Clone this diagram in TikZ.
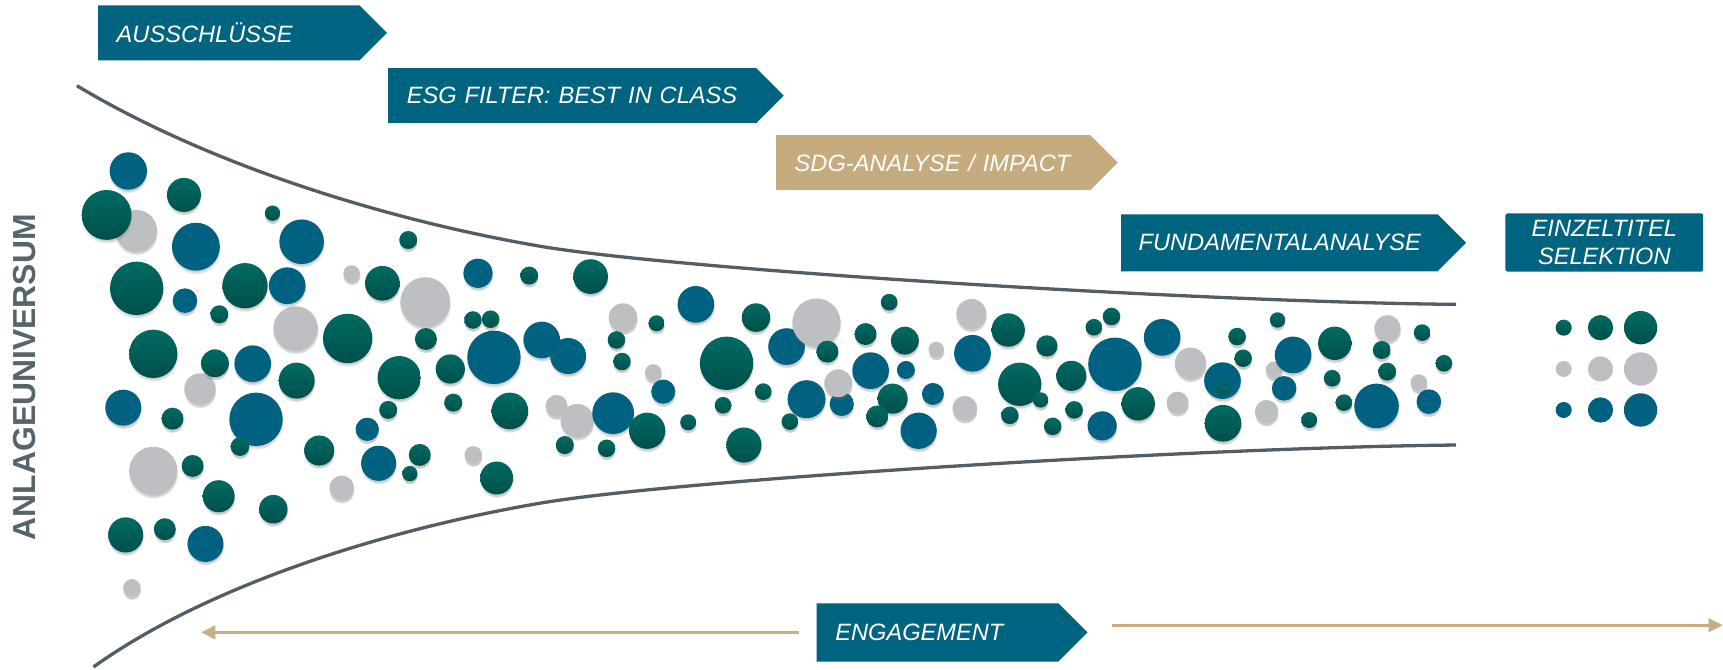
\documentclass[tikz,border=0pt]{standalone}
\usepackage{fontspec}
\setmainfont{Liberation Sans}
\usetikzlibrary{shapes.symbols, shadows, arrows.meta}

\definecolor{tagblue}{RGB}{0,99,128}
\definecolor{taggold}{RGB}{197,171,125}
\definecolor{arrowgold}{RGB}{200,174,128}
\definecolor{bubbleblue}{RGB}{0,98,128}
\definecolor{bubblegray}{RGB}{189,191,195}
\definecolor{greentop}{RGB}{0,107,98}
\definecolor{greenbottom}{RGB}{0,79,75}
\definecolor{funnelgray}{RGB}{81,94,103}
\definecolor{labelgray}{RGB}{86,100,108}

\newcommand\tagfont{\fontsize{21.5}{25.5}\selectfont\itshape}

\tikzset{
  bubbleshadow/.style={circular drop shadow={shadow xshift=0pt, shadow yshift=-2.5pt,
      shadow scale=1.04, opacity=0.35, fill=black!60}},
  greenbubble/.style={top color=greentop, bottom color=greenbottom, bubbleshadow},
  bluebubble/.style={fill=bubbleblue, bubbleshadow},
  graybubble/.style={fill=bubblegray, bubbleshadow},
  tag/.style={signal, signal to=east, fill=tagblue, text=white, font=\tagfont,
      minimum height=50pt, inner xsep=17pt, inner ysep=0pt, align=left, anchor=west},
  selectbox/.style={rectangle, rounded corners=2pt, fill=tagblue, text=white, font=\tagfont,
      align=center, minimum width=180pt, minimum height=53pt, inner sep=0pt},
  funnel/.style={draw=funnelgray, line width=3pt},
  engline/.style={draw=arrowgold, line width=3pt, -{Triangle[length=13pt, width=12pt]}}
}

\begin{document}
\begin{tikzpicture}[x=1pt, y=-1pt]
  \useasboundingbox (0,0) rectangle (1568,609);

  % funnel
  \draw[funnel] (70,78) .. controls (190,150) and (351,200) .. (491,224)
      .. controls (620,246) and (1100,275) .. (1325,277);
  \draw[funnel] (85,607) .. controls (190,532) and (351,482) .. (491,458)
      .. controls (620,436) and (1100,407) .. (1325,405);

  % bubbles: gray ones in the back
  \foreach \x/\y/\r in {124/210/19, 320/249/7.6, 269/299/20.3, 182/354/14.3, 139.5/428.6/22,
      311/444/11.2, 120/535/8, 387/275/22.7, 506.5/369.4/10, 525.3/382.8/15.2, 430.7/414/8,
      567/289/13, 594.5/339/7.6, 852/318/7, 884/285.7/13.7, 878/371.5/11.2, 1083.4/330.6/14.3,
      1071.6/366.4/10, 1159.5/336.7/7.6, 1152.6/374.6/10.6, 1262.6/298.8/12, 1291.2/348.2/7.6}
    \path[graybubble] (\x,\y) circle[radius=\r pt];

  \foreach \x/\y/\r in {116.8/155.6/17, 178.3/224.5/21.8, 274.5/220/20.3, 168.3/273.6/11.2,
      261.4/260/16.7, 230/331/16.7, 112.2/371/16.4, 233/381.6/24.3, 334.2/390.7/10.6,
      344.6/421.6/16, 187/495/16.4, 435/248.7/13.3, 449.5/325.2/24.3, 517/324/16.4,
      493/309.4/16.7, 558/376/19, 603.6/356.4/11, 633.3/277/16.7, 715.8/315.4/16.7,
      734/363.3/17.3, 766/367.6/11, 792.3/337.3/16.7, 824.4/336.7/8.2, 849/358.5/10,
      836/392/16.5, 885/321.5/16.7, 1014.6/331.5/24.3, 1057.6/307/16.7, 1112.5/346.4/16.7,
      1176.8/323/16.7, 1168.6/353.4/11.2, 1003/387.6/13.3, 1252.7/369.4/20.3, 1300.3/365.5/11.2}
    \path[bluebubble] (\x,\y) circle[radius=\r pt];

  \foreach \x/\y/\r in {743/293.6/22, 762.8/348.8/12.7}
    \path[graybubble] (\x,\y) circle[radius=\r pt];

  \foreach \x/\y/\r in {97/195.6/22.7, 167.4/177.4/15.5, 248/194/7, 124.4/262.4/24.3,
      199.6/286/8.2, 223/260/20.6, 316.4/308/22.5, 139.5/322/22, 195.6/330.6/12.7, 157/381/10,
      270/346.4/16.4, 218.4/406.4/8.5, 363.3/343.7/19.7, 353.3/373/8.2, 290.5/410/13.7,
      175.3/424/10, 199/451.6/14.6, 248.7/463.4/13, 114.4/486.8/16, 150/481.6/10,
      348/257.8/15.8, 371.5/218.4/8.2, 481.6/250.8/8.2, 537.5/251.7/15.8, 387.6/308.5/10,
      430.4/291.2/8, 446.5/290.5/8, 409.8/335.8/13.3, 412.5/366.4/8.2, 464/374/16.7,
      514/405/8.2, 552/408/8, 382/414/10, 452/435/15, 373/431/7, 561/309.4/8, 566/329/8,
      597.5/294.2/7.3, 661.2/330.6/24.3, 589/392/16.5, 626.3/384.3/7.3, 658/368.8/7.6,
      688/289/13, 694.6/356.4/7.6, 753/320/10, 718.8/383.7/7.6, 809.2/275/7.6, 787.7/304/10,
      823.5/310/12.7, 812.3/362.8/13.7, 798.3/379/10, 677/405/16, 917.5/300.3/15.2,
      952.7/314.8/9.7, 928/349.7/19.7, 947/364/7, 975/342/13.7, 995.5/297.8/7.6, 1011.5/288/8,
      1035.8/367.5/15.2, 977.5/373/8, 1125.8/306.3/8, 1131.3/326/8, 1162.6/291.2/7,
      1214.7/312.4/15.2, 1212.3/344.2/7.6, 1113/385.2/16.7, 919/378/8, 958/388/8,
      1191.4/382.2/7.3, 1223/366.4/7.6, 1257.5/318.5/8.2, 1262.4/338.2/8.2, 1294.2/302.7/7.6,
      1314/330.6/7.6}
    \path[greenbubble] (\x,\y) circle[radius=\r pt];
  \path[top color=greentop, bottom color=greenbottom, opacity=0.5] (1112.5,352.4) circle[radius=8.2pt];

  % selection
  \foreach \x/\r in {1423/7.3, 1456.5/11.5, 1493/15.2} {
    \path[top color=greentop, bottom color=greenbottom] (\x,298.2) circle[radius=\r pt];
    \path[fill=bubblegray] (\x,335.8) circle[radius=\r pt];
    \path[fill=bubbleblue] (\x,373.1) circle[radius=\r pt];
  }

  % steps
  \node[tag, text width=204pt] (ausschluesse) at (89,30) {AUSSCHLÜSSE};
  \node[tag, text width=301pt] (esgfilter) at (353,87) {ESG FILTER: BEST IN CLASS};
  \node[tag, fill=taggold, text width=252pt] (sdg) at (706,148) {SDG-ANALYSE / IMPACT};
  \node[tag, inner xsep=16pt, text width=256pt, minimum height=52pt] (fundamental) at (1020,221) {FUNDAMENTALANALYSE};
  \node[selectbox] (einzeltitel) at (1460,220.7) {EINZELTITEL\\SELEKTION};
  \node[tag, text width=186pt, minimum height=53pt] (engagement) at (743,575.5) {ENGAGEMENT};

  \node[rotate=90, text=labelgray, font=\fontsize{29}{32}\selectfont\bfseries] (universum)
      at (22.7,343.3) {ANLAGEUNIVERSUM};

  % engagement arrows
  \coordinate (engleft) at (183,575.5);
  \coordinate (engright) at (1568,569);
  \draw[engline] ([xshift=-16pt]engagement.west) -- (engleft);
  \draw[engline] ([xshift=22pt, yshift=6.5pt]engagement.east) -- (engright);
\end{tikzpicture}
\end{document}
